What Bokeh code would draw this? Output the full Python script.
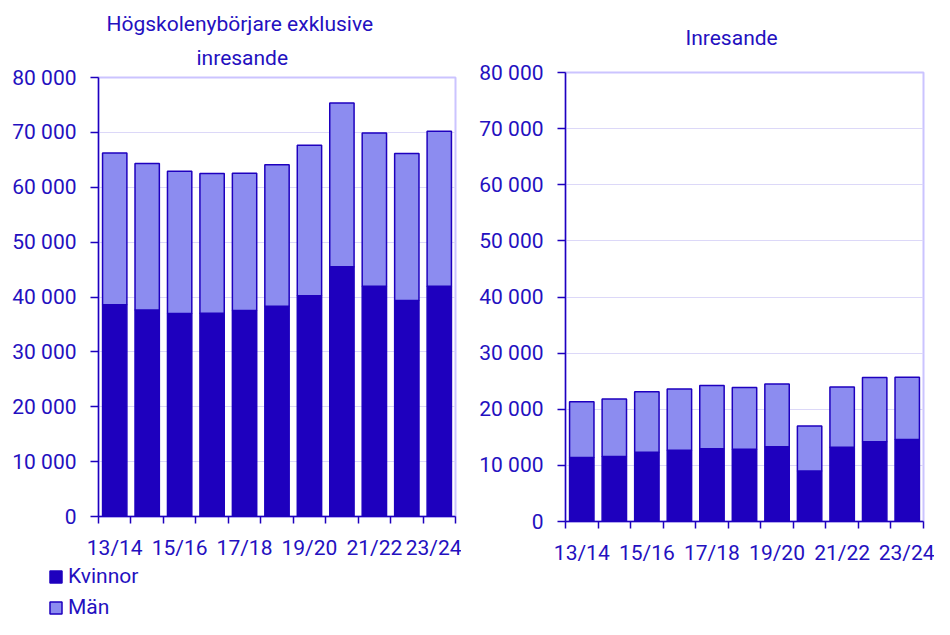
from bokeh.plotting import figure
from bokeh.models import (ColumnDataSource, FixedTicker, Range1d, Legend, LegendItem, Title)
from bokeh.layouts import row, column
from bokeh.embed import file_html
from bokeh.resources import INLINE

# ---- data ----
seasons = ["13/14", "14/15", "15/16", "16/17", "17/18", "18/19",
           "19/20", "20/21", "21/22", "22/23", "23/24"]
series_names = ["Kvinnor", "Män"]

left_title_lines = ["Högskolenybörjare exklusive", "inresande"]
left_kvinnor = [38600, 37650, 37000, 37050, 37550, 38300, 40250, 45500, 41950, 39350, 41950]
left_man = [27650, 26700, 25900, 25450, 25000, 25800, 27400, 29850, 27950, 26800, 28250]

right_title = "Inresande"
right_kvinnor = [11400, 11580, 12350, 12700, 12980, 12870, 13330, 9020, 13230, 14210, 14630]
right_man = [9950, 10240, 10750, 10930, 11230, 10990, 11180, 8000, 10750, 11440, 11050]

y_ticks = [0, 10000, 20000, 30000, 40000, 50000, 60000, 70000, 80000]
y_tick_labels = ["0", "10 000", "20 000", "30 000", "40 000", "50 000", "60 000", "70 000", "80 000"]

# ---- style ----
DARK = "#1e00be"
LIGHT = "#8c8cf0"
TEXT = "#2410c0"
GRID = "#dcd8f8"
FRAME = "#cbc4ff"
FONT = "Roboto"
FS = "21px"


def make_source(kv, mn):
    pos = [i + 0.5 for i in range(len(seasons))]
    return ColumnDataSource(dict(x=pos, Kvinnor=kv, Män=mn)), pos


def make_fig(kv, mn, width, height, mb_left, mb_right, mb_top, mb_bottom):
    src, pos = make_source(kv, mn)
    p = figure(width=width, height=height, output_backend="svg", toolbar_location=None,
               x_range=Range1d(0, len(seasons)), y_range=Range1d(y_ticks[0], y_ticks[-1]),
               min_border_left=mb_left, min_border_right=mb_right,
               min_border_top=mb_top, min_border_bottom=mb_bottom)
    p.title.visible = False
    p.vbar_stack(series_names, x="x", width=0.75, source=src,
                 fill_color=[DARK, LIGHT], line_color=DARK, line_width=1.5)
    p.outline_line_color = FRAME
    p.outline_line_width = 2
    p.background_fill_color = "white"
    p.border_fill_color = "white"
    p.xgrid.grid_line_color = None
    p.ygrid.grid_line_color = GRID
    p.ygrid.grid_line_width = 1.2
    p.ygrid.ticker = FixedTicker(ticks=y_ticks)

    yax = p.yaxis[0]
    yax.ticker = FixedTicker(ticks=y_ticks, minor_ticks=[])
    yax.major_label_overrides = {t: l for t, l in zip(y_ticks, y_tick_labels)}
    yax.axis_line_color = DARK
    yax.axis_line_width = 1.5
    yax.major_tick_line_color = DARK
    yax.major_tick_line_width = 1.5
    yax.major_tick_out = 8
    yax.major_tick_in = 0
    yax.minor_tick_line_color = None
    yax.major_label_standoff = 14
    yax.major_label_text_font = FONT
    yax.major_label_text_font_size = FS
    yax.major_label_text_color = TEXT

    xax = p.xaxis[0]
    label_pos = pos[::2]
    xax.ticker = FixedTicker(ticks=label_pos, minor_ticks=list(range(len(seasons) + 1)))
    xax.major_label_overrides = {t: s for t, s in zip(label_pos, seasons[::2])}
    xax.axis_line_color = DARK
    xax.axis_line_width = 1.5
    xax.major_tick_line_color = None
    xax.major_tick_out = 0
    xax.major_tick_in = 0
    xax.minor_tick_line_color = DARK
    xax.minor_tick_line_width = 1.5
    xax.minor_tick_out = 7
    xax.minor_tick_in = 0
    xax.major_label_standoff = 12
    xax.major_label_text_font = FONT
    xax.major_label_text_font_size = FS
    xax.major_label_text_color = TEXT
    return p


def add_title(p, text, offset, standoff):
    p.add_layout(Title(text=text, align="left", offset=offset, standoff=standoff,
                       text_font=FONT, text_font_size=FS, text_font_style="normal",
                       text_color=TEXT), "above")


p1 = make_fig(left_kvinnor, left_man, 461, 562, 98, 6, 77, 44)
p2 = make_fig(right_kvinnor, right_man, 473, 619, 104, 11, 68, 98)

add_title(p1, left_title_lines[1], 98, 16)
add_title(p1, left_title_lines[0], 8, 0)
add_title(p2, right_title, 120, 46)

# legend panel below the left chart (its renderers are hidden; only the legend shows)
leg_src, _ = make_source(left_kvinnor, left_man)
p_leg = figure(width=461, height=57, output_backend="svg", toolbar_location=None,
               x_range=Range1d(0, len(seasons)), y_range=Range1d(y_ticks[0], y_ticks[-1]),
               x_axis_location=None, y_axis_location=None,
               min_border_left=0, min_border_right=0, min_border_top=0, min_border_bottom=0)
p_leg.title.visible = False
p_leg.grid.visible = False
p_leg.outline_line_color = None
leg_rs = p_leg.vbar_stack(series_names, x="x", width=0.75, source=leg_src,
                          fill_color=[DARK, LIGHT], line_color=DARK, line_width=1.5)
for r in leg_rs:
    r.visible = False
legend = Legend(items=[LegendItem(label=n, renderers=[r]) for n, r in zip(series_names, leg_rs)],
                location=(48, 0), orientation="vertical",
                glyph_width=15, glyph_height=15, label_standoff=5, spacing=7,
                padding=0, margin=0, border_line_color=None, background_fill_alpha=0,
                inactive_fill_alpha=0,
                label_text_font=FONT, label_text_font_size=FS, label_text_color=TEXT)
p_leg.add_layout(legend, "center")

layout = row(column(p1, row(p_leg, spacing=0), spacing=0), p2, spacing=0)
open("out.html", "w").write(file_html(layout, INLINE))
